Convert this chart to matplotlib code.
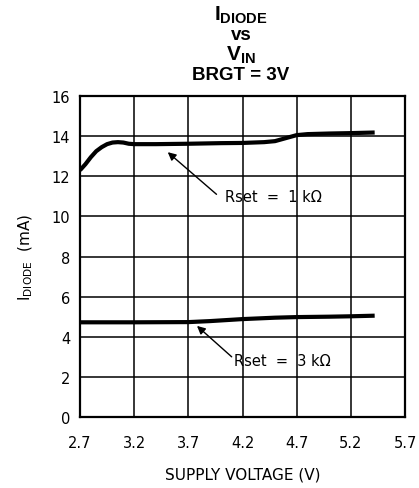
import matplotlib
matplotlib.use('Agg')
import matplotlib.pyplot as plt

# data
v_1k = [2.70, 2.75, 2.80, 2.85, 2.90, 2.95, 3.00, 3.05, 3.10, 3.15, 3.20, 3.40, 3.70,
        4.00, 4.20, 4.40, 4.50, 4.60, 4.70, 4.80, 5.00, 5.20, 5.42]
i_1k = [12.3, 12.6, 12.95, 13.25, 13.45, 13.6, 13.68, 13.7, 13.68, 13.62, 13.6, 13.6, 13.62,
        13.65, 13.66, 13.7, 13.75, 13.9, 14.05, 14.1, 14.13, 14.15, 14.18]
v_3k = [2.70, 3.20, 3.70, 3.90, 4.20, 4.50, 4.70, 5.00, 5.20, 5.42]
i_3k = [4.72, 4.72, 4.73, 4.78, 4.88, 4.95, 4.98, 5.00, 5.02, 5.05]
x_ticks = [2.7, 3.2, 3.7, 4.2, 4.7, 5.2, 5.7]
y_ticks = [0, 2, 4, 6, 8, 10, 12, 14, 16]

plt.rcParams['font.family'] = ['DejaVu Sans']
plt.rcParams['mathtext.fontset'] = 'custom'
plt.rcParams['mathtext.rm'] = 'Liberation Sans'
plt.rcParams['mathtext.bf'] = 'Liberation Sans:bold'

fig = plt.figure(figsize=(4.19, 4.89), dpi=100)
ax = fig.add_axes([80/419, 1-418/489, 325/419, 321/489])

ax.plot(v_1k, i_1k, color='black', linewidth=3.0, solid_capstyle='butt')
ax.plot(v_3k, i_3k, color='black', linewidth=3.0, solid_capstyle='butt')

ax.set_xlim(2.7, 5.7)
ax.set_ylim(0, 16)
ax.set_xticks(x_ticks)
ax.set_yticks(y_ticks)
ax.set_xticklabels([f'{t:.1f}' for t in x_ticks])
ax.grid(True, color='black', linewidth=1.1)
for s in ax.spines.values():
    s.set_linewidth(1.6)
ax.tick_params(length=0, labelsize=10.5)
ax.tick_params(axis='x', pad=13)
ax.tick_params(axis='y', pad=7)

ax.set_xlabel('SUPPLY VOLTAGE (V)', fontsize=11, labelpad=12)
ax.set_ylabel(r'$\mathregular{I_{DIODE}}$  (mA)', fontsize=11, labelpad=12)

arrow = dict(arrowstyle='-|>', color='black', lw=1.0, mutation_scale=12, shrinkA=0, shrinkB=0)
ax.annotate('', xy=(3.51, 13.2), xytext=(3.96, 11.1), arrowprops=arrow)
ax.text(4.04, 10.97, 'Rset  =  1 k\u03a9', fontsize=10.5, va='center', ha='left')
ax.annotate('', xy=(3.78, 4.54), xytext=(4.10, 3.0), arrowprops=arrow)
ax.text(4.12, 2.8, 'Rset  =  3 k\u03a9', fontsize=10.5, va='center', ha='left')

cx = 241/419
fig.text(cx, 1-15/489, r'$\mathbf{I_{DIODE}}$', ha='center', va='center', fontsize=15)
fig.text(cx, 1-36/489, 'vs', ha='center', va='center', fontsize=13.5, fontweight='bold', family='Liberation Sans')
fig.text(cx, 1-55/489, r'$\mathbf{V_{IN}}$', ha='center', va='center', fontsize=15)
fig.text(cx, 1-75/489, 'BRGT = 3V', ha='center', va='center', fontsize=13.5, fontweight='bold', family='Liberation Sans')

fig.savefig('out.png', dpi=100)
plt.close(fig)
